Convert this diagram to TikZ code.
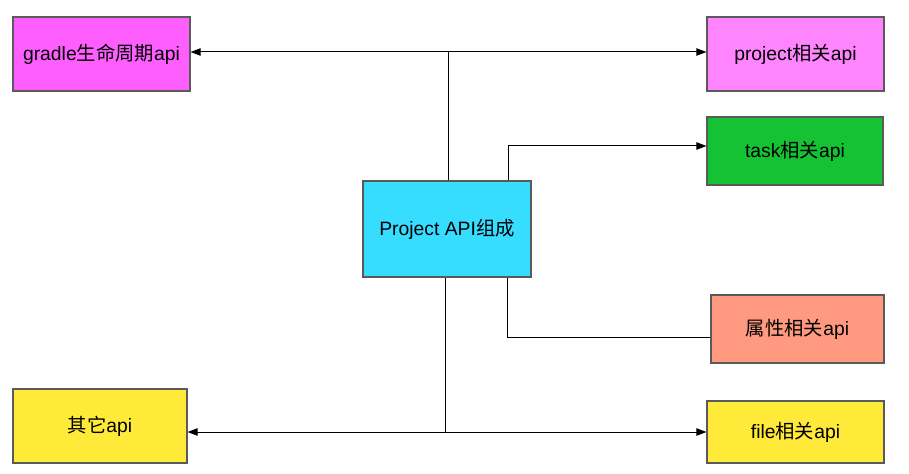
\documentclass[tikz,border=0pt]{standalone}
\usepackage{fontspec}
\setmainfont{Liberation Sans}
\newfontfamily\cjk{Noto Sans CJK SC}
\usepackage{xcolor}
\usepackage{tikz}
\usetikzlibrary{positioning, arrows.meta}

\definecolor{lifepink}{HTML}{FF5EFF}
\definecolor{projpink}{HTML}{FF85FF}
\definecolor{taskgreen}{HTML}{14C234}
\definecolor{corecyan}{HTML}{36DDFF}
\definecolor{attrsalmon}{HTML}{FF9A80}
\definecolor{fileyellow}{HTML}{FFEA3A}
\definecolor{boxline}{HTML}{5A5A5A}

\newcommand{\zh}[1]{{\cjk #1}}

\begin{document}
\begin{tikzpicture}[
        x=0.75pt, y=-0.75pt,
        every node/.style={font=\fontsize{14.5}{17}\selectfont},
        box/.style={draw=boxline, line width=0.8pt, minimum width=132.75pt, minimum height=55.5pt, align=center, inner sep=0pt},
        arrow/.style={-{Triangle[length=7.5pt, width=5.5pt]}, line width=0.75pt},
        link/.style={line width=0.75pt}
    ]
    \useasboundingbox (0,0) rectangle (909,474);

    % Nodes -----------------------------------------------
    \node[box, fill=corecyan, minimum width=126pt, minimum height=72pt] (core) at (447,229) {Project API\zh{组成}};
    \node[box, fill=lifepink] (life) at (101.5,54) {gradle\zh{生命周期}api};
    \node[box, fill=projpink] (proj) at (795.5,54) {project\zh{相关}api};
    \node[box, fill=taskgreen, minimum width=132pt, minimum height=51pt] (task) at (795,151) {task\zh{相关}api};
    \node[box, fill=attrsalmon, minimum width=129.75pt, minimum height=51pt] (attr) at (797.5,329) {\zh{属性相关}api};
    \node[box, fill=fileyellow, minimum width=130.5pt] (other) at (100,426) {\zh{其它}api};
    \node[box, fill=fileyellow, minimum height=46.5pt] (file) at (795.5,432) {file\zh{相关}api};

    \coordinate (topjoin) at (448,52);
    \coordinate (botjoin) at (445,432);
    \coordinate (taskbend) at (508,146);
    \coordinate (attrbend) at (507,337);

      % top branch
      \draw[link] (core.north -| topjoin) -- (topjoin);
      \draw[arrow] (topjoin) -- (life.east |- topjoin);
      \draw[arrow] (topjoin) -- (proj.west |- topjoin);
      \draw[arrow] (core.north -| taskbend) |- (task.west |- taskbend);

      % bottom branch
      \draw[link] (core.south -| attrbend) |- (attr.west |- attrbend);
      \draw[link] (core.south -| botjoin) -- (botjoin);
      \draw[arrow] (botjoin) -- (other.east |- botjoin);
      \draw[arrow] (botjoin) -- (file.west |- botjoin);
\end{tikzpicture}
\end{document}
